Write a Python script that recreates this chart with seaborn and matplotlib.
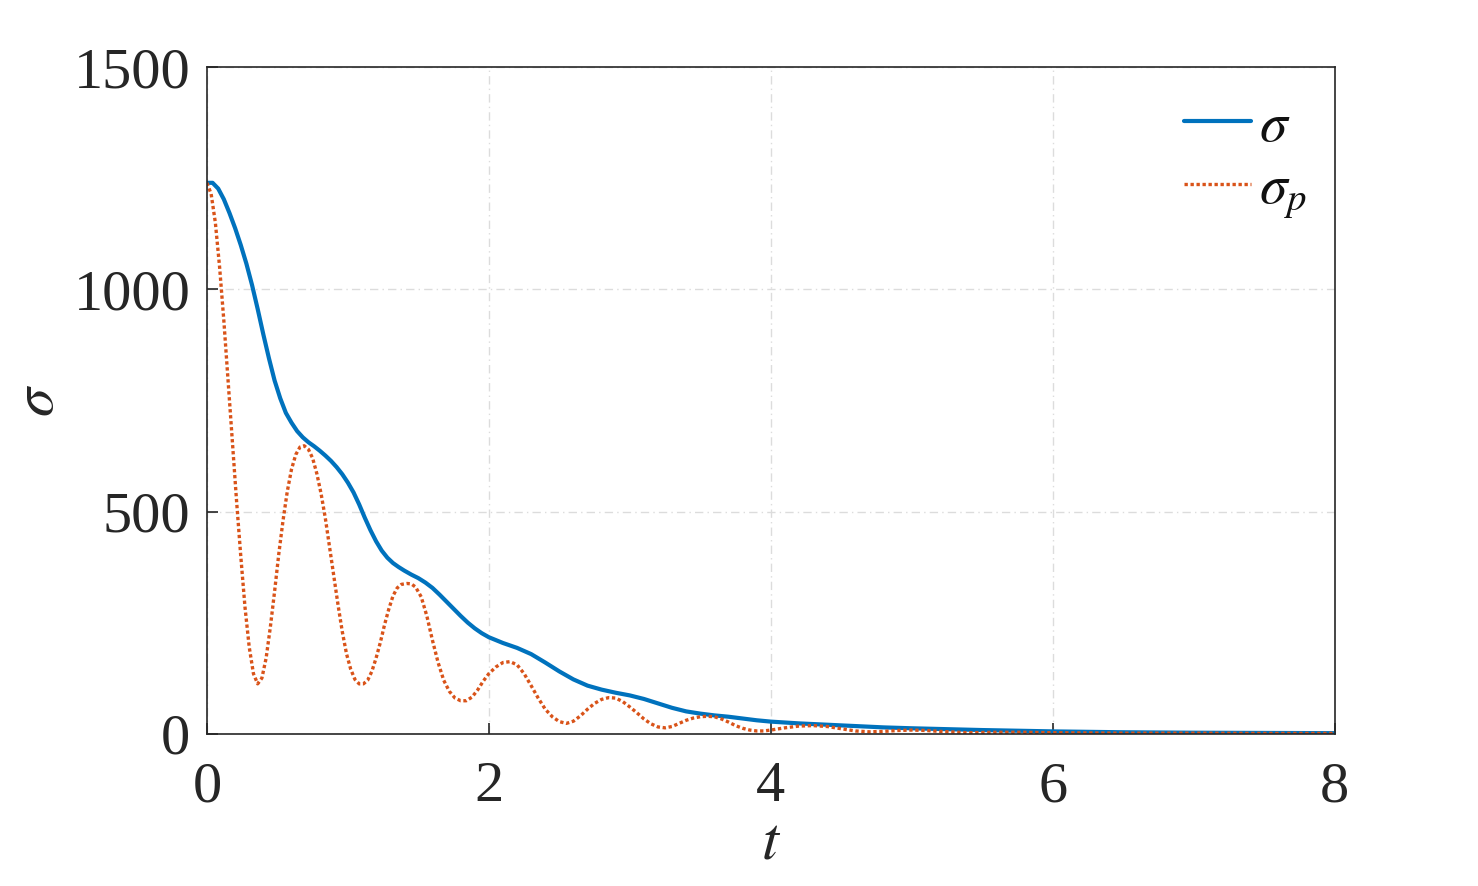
import numpy as np
import pandas as pd
import seaborn as sns
import matplotlib
matplotlib.use("Agg")
import matplotlib.pyplot as plt

# ---- data ----
t_sigma = [0.00, 0.04, 0.08, 0.12, 0.16, 0.20, 0.24, 0.28, 0.32, 0.36, 0.40, 0.44, 0.48,
           0.52, 0.56, 0.60, 0.64, 0.68, 0.72, 0.76, 0.80, 0.84, 0.88, 0.92, 0.96, 1.00,
           1.04, 1.08, 1.12, 1.16, 1.20, 1.24, 1.28, 1.32, 1.36, 1.40, 1.45, 1.50, 1.55,
           1.60, 1.65, 1.70, 1.75, 1.80, 1.85, 1.90, 1.95, 2.00, 2.10, 2.20, 2.30, 2.40,
           2.50, 2.60, 2.70, 2.80, 2.90, 3.00, 3.10, 3.20, 3.30, 3.40, 3.50, 3.60, 3.70,
           3.80, 3.90, 4.00, 4.20, 4.40, 4.60, 4.80, 5.00, 5.50, 6.00, 6.50, 7.00, 7.50, 8.00]
sigma = [1240, 1240, 1227, 1203, 1172, 1138, 1100, 1058, 1010, 956, 899, 845, 795,
         755, 722, 700, 681, 667, 656, 647, 637, 626, 614, 600, 584, 565,
         543, 516, 486, 458, 433, 412, 396, 384, 375, 367, 358, 350, 340,
         328, 313, 297, 281, 265, 250, 237, 226, 217, 204, 193, 179, 160,
         140, 122, 108, 99, 92, 86, 78, 68, 58, 50, 45, 41, 38,
         34, 30, 27, 23, 20, 17, 14, 12, 8, 5, 3, 2, 1.5, 1]

t_sigma_p = [0.00, 0.03, 0.06, 0.09, 0.12, 0.15, 0.18, 0.21, 0.24, 0.27, 0.30, 0.33, 0.36,
             0.39, 0.42, 0.45, 0.48, 0.51, 0.54, 0.57, 0.60, 0.63, 0.66, 0.69, 0.72, 0.75,
             0.78, 0.81, 0.84, 0.87, 0.90, 0.93, 0.96, 0.99, 1.02, 1.05, 1.08, 1.11, 1.14,
             1.17, 1.20, 1.23, 1.26, 1.29, 1.32, 1.35, 1.38, 1.42, 1.45, 1.48, 1.52, 1.56,
             1.60, 1.64, 1.68, 1.72, 1.76, 1.80, 1.84, 1.88, 1.92, 1.96, 2.00, 2.05, 2.10,
             2.15, 2.20, 2.25, 2.30, 2.35, 2.40, 2.45, 2.50, 2.55, 2.60, 2.65, 2.70, 2.75,
             2.80, 2.85, 2.90, 2.95, 3.00, 3.05, 3.10, 3.15, 3.20, 3.25, 3.30, 3.35, 3.40,
             3.45, 3.50, 3.55, 3.60, 3.65, 3.70, 3.75, 3.80, 3.85, 3.90, 3.95, 4.00, 4.10,
             4.20, 4.30, 4.40, 4.50, 4.60, 4.70, 4.80, 4.90, 5.00, 5.10, 5.20, 5.40, 5.60,
             5.80, 6.00, 6.50, 7.00, 7.50, 8.00]
sigma_p = [1240, 1215, 1150, 1050, 930, 795, 660, 525, 400, 285, 195, 135, 112,
           125, 170, 240, 320, 405, 480, 545, 595, 628, 645, 648, 640, 620,
           585, 540, 485, 420, 355, 290, 230, 180, 145, 122, 112, 112, 120,
           140, 170, 205, 245, 280, 310, 328, 336, 338, 337, 330, 308, 265,
           210, 160, 120, 95, 80, 74, 74, 82, 98, 118, 135, 150, 160,
           162, 155, 135, 108, 80, 55, 38, 27, 23, 28, 40, 55, 68,
           77, 81, 80, 72, 60, 47, 33, 22, 15, 13, 16, 23, 30,
           35, 38, 39, 38, 33, 26, 18, 12, 8, 6, 6, 8, 13,
           17, 18, 16, 11, 6, 4, 5, 7, 8, 7, 5, 2, 3,
           3, 2, 1, 1, 0.5, 0.5]

x_ticks = [0, 2, 4, 6, 8]
y_ticks = [0, 500, 1000, 1500]

df1 = pd.DataFrame({"t": t_sigma, "v": sigma})
df2 = pd.DataFrame({"t": t_sigma_p, "v": sigma_p})

sns.set_style("white")
plt.rcParams["font.family"] = ["Liberation Serif", "DejaVu Serif"]
plt.rcParams["mathtext.fontset"] = "stix"

fig = plt.figure(figsize=(14.78, 8.86), dpi=100)
ax = fig.add_axes([0.140, 0.172, 0.763, 0.752])

sns.lineplot(data=df1, x="t", y="v", ax=ax, color="#0072BD", linewidth=3.0,
             label=r"$\sigma$", sort=False)
sns.lineplot(data=df2, x="t", y="v", ax=ax, color="#D95319", linewidth=2.4,
             linestyle=(0, (1, 0.8)), label=r"$\sigma_p$", sort=False)

ax.set_xlim(0, 8)
ax.set_ylim(0, 1500)
ax.set_xticks(x_ticks)
ax.set_yticks(y_ticks)
ax.set_xticklabels([str(v) for v in x_ticks])
ax.set_yticklabels([str(v) for v in y_ticks])

ax.grid(True, color="#dcdcdc", linestyle=(0, (6, 3, 1, 3)), linewidth=1.0)
ax.set_axisbelow(True)
for s in ax.spines.values():
    s.set_color("#262626")
    s.set_linewidth(1.2)
    s.set_visible(True)

ax.tick_params(axis="both", direction="in", length=8, width=1.2, color="#262626",
               labelsize=42, labelcolor="#262626", left=True, bottom=True)
ax.tick_params(axis="x", pad=20)
ax.tick_params(axis="y", pad=12)

ax.set_xlabel(r"$t$", fontsize=44, color="#262626", labelpad=2)
ax.set_ylabel(r"$\sigma$", fontsize=42, color="#262626", labelpad=6)

leg = ax.legend(loc="upper right", frameon=False, fontsize=40, handlelength=1.2,
                handletextpad=0.15, labelspacing=0.2, borderaxespad=0.2,
                bbox_to_anchor=(1.005, 1.0))
for txt in leg.get_texts():
    txt.set_color("#111111")

fig.savefig("out.png", dpi=100, facecolor="white")
